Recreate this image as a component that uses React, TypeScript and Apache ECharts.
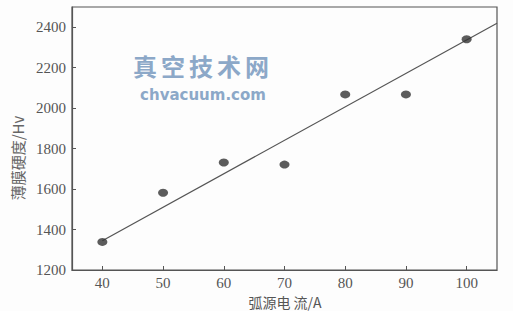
import React, { useEffect, useRef } from "react";
import * as echarts from "echarts";

const currents = [40, 50, 60, 70, 80, 90, 100];
const hardness = [1339, 1582, 1731, 1721, 2068, 2068, 2341];
const fitX = [40, 105];
const fitY = [1345, 2420];
const xTicks = [40, 50, 60, 70, 80, 90, 100];
const yTicks = [1200, 1400, 1600, 1800, 2000, 2200, 2400];
const watermarkChars = ["真", "空", "技", "术", "网"];

export default function App() {
  const ref = useRef<HTMLDivElement>(null);
  useEffect(() => {
    const chart = echarts.init(ref.current!, null, { renderer: "svg" });
    const font = "'Liberation Serif', 'DejaVu Serif', serif";
    const wm = watermarkChars.map((c, i) => ({
      type: "text",
      x: 145 + i * 28,
      y: 65,
      style: {
        text: c,
        fill: "#8ca8c8",
        font: "bold 24px 'Noto Sans CJK SC'",
        textAlign: "center",
        textVerticalAlign: "middle",
      },
    }));
    chart.setOption({
      animation: false,
      backgroundColor: "#fdfdfd",
      grid: {
        left: 72,
        top: 7,
        right: 16,
        bottom: 41,
        show: true,
        borderColor: "#555",
        borderWidth: 1.2,
        containLabel: false,
        outerBoundsMode: "none",
      },
      xAxis: {
        type: "value",
        min: 35,
        max: 105,
        splitLine: { show: false },
        axisLine: { show: true, lineStyle: { color: "#555", width: 1.2 } },
        axisTick: { show: true, inside: true, length: 4, lineStyle: { color: "#555" }, customValues: xTicks },
        axisLabel: { customValues: xTicks, color: "#555", fontSize: 15, fontFamily: font, margin: 5, formatter: (v: number) => String(v) },
      },
      yAxis: {
        type: "value",
        min: 1200,
        max: 2500,
        splitLine: { show: false },
        axisLine: { show: true, lineStyle: { color: "#555", width: 1.2 } },
        axisTick: { show: true, inside: true, length: 4, lineStyle: { color: "#555" }, customValues: yTicks },
        axisLabel: { customValues: yTicks, color: "#555", fontSize: 15, fontFamily: font, margin: 6, formatter: (v: number) => String(v) },
      },
      graphic: [
        ...wm,
        {
          type: "text",
          x: 203,
          y: 95,
          style: {
            text: "chvacuum.com",
            fill: "#8ca8c8",
            font: "bold 15px 'DejaVu Sans'",
            textAlign: "center",
            textVerticalAlign: "middle",
          },
        },
        {
          type: "text",
          x: 17,
          y: 158,
          rotation: Math.PI / 2,
          style: {
            text: "薄膜硬度/Hv",
            fill: "#666",
            font: "15px 'Noto Sans CJK SC'",
            textAlign: "center",
            textVerticalAlign: "middle",
          },
        },
        {
          type: "text",
          x: 285,
          y: 302,
          style: {
            text: "弧源电 流/A",
            fill: "#555",
            font: "14px 'Noto Sans CJK SC'",
            textAlign: "center",
            textVerticalAlign: "middle",
          },
        },
      ],
      series: [
        {
          type: "line",
          data: fitX.map((x, i) => [x, fitY[i]]),
          symbol: "none",
          lineStyle: { color: "#555", width: 1.2 },
          z: 1,
        },
        {
          type: "scatter",
          data: currents.map((x, i) => [x, hardness[i]]),
          symbol: "circle",
          symbolSize: [10, 8],
          itemStyle: { color: "#333" },
          z: 2,
        },
      ],
    });
    return () => chart.dispose();
  }, []);
  return <div ref={ref} style={{ width: 513, height: 311, position: "absolute", left: 0, top: 0 }} />;
}
